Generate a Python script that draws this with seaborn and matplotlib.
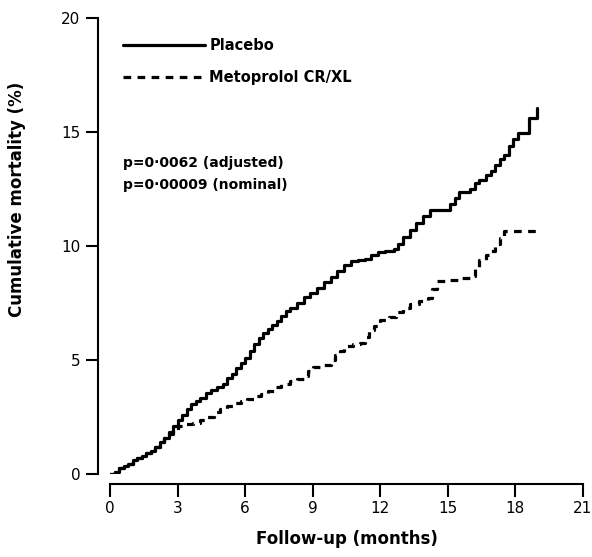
import numpy as np
import pandas as pd
import matplotlib
matplotlib.use("Agg")
import matplotlib.pyplot as plt
import seaborn as sns

# ---- data ----
placebo_months = [0, 0.2, 0.4, 0.6, 0.8, 1.0, 1.2, 1.4, 1.6, 1.8, 2.0, 2.2, 2.4, 2.6, 2.8,
                  3.0, 3.2, 3.4, 3.6, 3.8, 4.0, 4.25, 4.5, 4.75, 5.0, 5.2, 5.4, 5.6, 5.8,
                  6.0, 6.2, 6.4, 6.6, 6.8, 7.0, 7.2, 7.4, 7.6, 7.8, 8.0, 8.3, 8.6, 8.9,
                  9.2, 9.5, 9.8, 10.1, 10.4, 10.7, 11.0, 11.3, 11.6, 11.9, 12.2, 12.6,
                  12.8, 13.0, 13.3, 13.6, 13.9, 14.2, 15.1, 15.3, 15.5, 16.0, 16.2, 16.4,
                  16.7, 16.9, 17.1, 17.3, 17.5, 17.7, 17.9, 18.1, 18.6, 18.95, 18.95]
placebo_values = [0, 0.1, 0.25, 0.35, 0.45, 0.6, 0.7, 0.8, 0.9, 1.0, 1.2, 1.4, 1.6, 1.85,
                  2.1, 2.35, 2.6, 2.85, 3.05, 3.2, 3.35, 3.55, 3.7, 3.8, 3.95, 4.2, 4.4,
                  4.65, 4.85, 5.1, 5.4, 5.7, 5.95, 6.2, 6.35, 6.55, 6.7, 6.95, 7.15, 7.3,
                  7.5, 7.75, 7.95, 8.15, 8.4, 8.65, 8.9, 9.15, 9.35, 9.4, 9.45, 9.6, 9.75,
                  9.8, 9.85, 10.1, 10.4, 10.7, 11.0, 11.3, 11.6, 11.85, 12.1, 12.35, 12.5,
                  12.75, 12.9, 13.1, 13.3, 13.55, 13.8, 14.0, 14.4, 14.7, 14.95, 15.6,
                  16.05, 16.05]
meto_months = [0, 0.2, 0.4, 0.6, 0.8, 1.0, 1.2, 1.4, 1.6, 1.8, 2.0, 2.2, 2.4, 2.6, 2.8,
               3.0, 3.3, 3.7, 4.0, 4.3, 4.6, 4.9, 5.2, 5.5, 5.8, 6.1, 6.4, 6.7, 7.0, 7.3,
               7.6, 8.0, 8.3, 8.6, 8.8, 9.0, 9.4, 9.8, 10.0, 10.2, 10.4, 10.8, 11.1,
               11.3, 11.5, 11.7, 12.0, 12.4, 12.7, 13.0, 13.3, 13.7, 14.1, 14.3, 14.5,
               15.0, 15.6, 16.0, 16.2, 16.4, 16.7, 16.9, 17.1, 17.3, 17.5, 18.95]
meto_values = [0, 0.1, 0.25, 0.35, 0.45, 0.6, 0.7, 0.8, 0.9, 1.0, 1.2, 1.4, 1.6, 1.75,
               1.95, 2.1, 2.2, 2.25, 2.35, 2.5, 2.7, 2.85, 3.0, 3.1, 3.2, 3.3, 3.4, 3.5,
               3.65, 3.8, 3.95, 4.1, 4.15, 4.3, 4.5, 4.7, 4.8, 5.0, 5.2, 5.4, 5.6, 5.7,
               5.75, 6.0, 6.3, 6.5, 6.75, 6.9, 7.1, 7.3, 7.45, 7.6, 7.7, 8.1, 8.45, 8.5,
               8.6, 8.7, 9.1, 9.4, 9.6, 9.8, 10.1, 10.35, 10.65, 10.65]
group_names = ["Placebo", "Metoprolol CR/XL"]
x_ticks = [0, 3, 6, 9, 12, 15, 18, 21]
y_ticks = [0, 5, 10, 15, 20]
annotations = ["p=0\u00b70062 (adjusted)", "p=0\u00b700009 (nominal)"]

df = pd.concat([
    pd.DataFrame({"month": placebo_months, "mort": placebo_values, "group": group_names[0]}),
    pd.DataFrame({"month": meto_months, "mort": meto_values, "group": group_names[1]}),
], ignore_index=True)

sns.set_theme(style="ticks")
plt.rcParams["font.family"] = ["DejaVu Sans"]

W, H = 592, 557
fig = plt.figure(figsize=(W / 100, H / 100), dpi=100)
ax = fig.add_axes([110 / W, 1 - 474 / H, (583 - 110) / W, (474 - 18) / H])

sns.lineplot(data=df, x="month", y="mort", style="group", style_order=group_names,
             dashes={group_names[0]: "", group_names[1]: (2.4, 2.0)},
             color="black", linewidth=2.3, estimator=None, sort=False,
             drawstyle="steps-post", ax=ax, legend=True)

ax.set_xlim(0, 21)
ax.set_ylim(0, 20)
ax.set_xticks(x_ticks, labels=[str(v) for v in x_ticks], fontweight="bold", fontsize=13)
ax.set_yticks(y_ticks, labels=[str(v) for v in y_ticks], fontweight="bold", fontsize=13)
ax.tick_params(axis="both", width=1.5, length=9, color="black", labelcolor="black")
sns.despine(ax=ax)
ax.spines["left"].set_position(("outward", 9))
ax.spines["bottom"].set_position(("outward", 7))
for s in ("left", "bottom"):
    ax.spines[s].set_linewidth(1.5)
    ax.spines[s].set_color("black")

ax.set_xlabel("Follow-up (months)", fontsize=12, fontweight="bold", color="black",
              labelpad=10)
ax.set_ylabel("Cumulative mortality (%)", fontsize=12, fontweight="bold", color="black")
ax.yaxis.set_label_coords(-0.178, 0.603)

handles, labels = ax.get_legend_handles_labels()
leg = ax.legend(handles, labels, loc="upper left", bbox_to_anchor=(0.0, 0.985),
                frameon=False, handlelength=5.6, handletextpad=0.3, labelspacing=1.15,
                prop={"size": 10.5, "weight": "bold"})
for t in leg.get_texts():
    t.set_color("black")

for i, txt in enumerate(annotations):
    ax.text(0.028, 0.682 - i * 0.048, txt, transform=ax.transAxes, fontsize=10,
            fontweight="bold", color="black", va="center", ha="left")

fig.savefig("out.png", dpi=100, facecolor="white")
